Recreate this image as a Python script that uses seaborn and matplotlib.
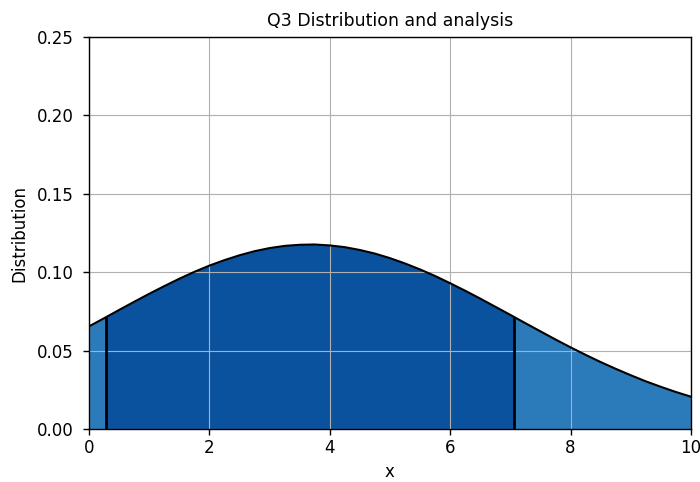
import matplotlib
matplotlib.use("Agg")
import matplotlib.pyplot as plt
import numpy as np
import pandas as pd
import seaborn as sns

# curve (x step 0.25)
x_vals = [0.0, 0.25, 0.5, 0.75, 1.0, 1.25, 1.5, 1.75, 2.0, 2.25, 2.5, 2.75,
          3.0, 3.25, 3.5, 3.75, 4.0, 4.25, 4.5, 4.75, 5.0, 5.25, 5.5, 5.75,
          6.0, 6.25, 6.5, 6.75, 7.0, 7.25, 7.5, 7.75, 8.0, 8.25, 8.5, 8.75,
          9.0, 9.25, 9.5, 9.75, 10.0]
dens = [0.0654, 0.0706, 0.0759, 0.0811, 0.0862, 0.0911, 0.0958, 0.1002,
        0.1042, 0.1077, 0.1108, 0.1134, 0.1154, 0.1168, 0.1175, 0.1177,
        0.1171, 0.1160, 0.1142, 0.1119, 0.1090, 0.1056, 0.1018, 0.0976,
        0.0930, 0.0882, 0.0832, 0.0780, 0.0728, 0.0675, 0.0623, 0.0571,
        0.0521, 0.0473, 0.0427, 0.0384, 0.0343, 0.0304, 0.0269, 0.0236,
        0.0206]
# interval bounds marked with the vertical lines
lo, hi = 0.285, 7.065

df = pd.DataFrame({"x": x_vals, "Distribution": dens})

sns.set_theme(style="ticks", rc={"text.color": "black", "axes.labelcolor": "black",
                                 "xtick.color": "black", "ytick.color": "black"})
plt.rcParams["font.family"] = ["DejaVu Sans"]

fig, ax = plt.subplots(figsize=(7, 4.82), dpi=100)
fig.subplots_adjust(left=0.127, right=0.987, bottom=0.110, top=0.923)

x = df["x"].to_numpy()
y = df["Distribution"].to_numpy()

# whole area under the curve, lighter blue
ax.fill_between(x, 0, y, color="#2b7bba", linewidth=0, zorder=1)

# the interval in darker blue
inner = (x > lo) & (x < hi)
xs = np.concatenate([[lo], x[inner], [hi]])
ys = np.concatenate([[np.interp(lo, x, y)], y[inner], [np.interp(hi, x, y)]])
ax.fill_between(xs, 0, ys, color="#0b529e", linewidth=0, zorder=1)

sns.lineplot(data=df, x="x", y="Distribution", color="black", linewidth=1.5,
             ax=ax, zorder=3)
ax.vlines([lo, hi], 0, [np.interp(lo, x, y), np.interp(hi, x, y)],
          colors="black", linewidth=2, zorder=3)

ax.set_xlim(0, 10)
ax.set_ylim(0, 0.25)
ax.set_xticks([0, 2, 4, 6, 8, 10])
ax.set_yticks([0.0, 0.05, 0.10, 0.15, 0.20, 0.25])
ax.set_yticklabels(["0.00", "0.05", "0.10", "0.15", "0.20", "0.25"])
ax.grid(True, color="#b0b0b0", linewidth=0.8)
ax.set_axisbelow(False)
for s in ax.spines.values():
    s.set_color("black")
    s.set_linewidth(1.0)
    s.set_zorder(5)
ax.tick_params(axis="both", labelsize=12, length=4, width=1, color="black")
ax.tick_params(axis="y", pad=7)
ax.set_xlabel("x", fontsize=12)
ax.set_ylabel("Distribution", fontsize=12, labelpad=6)
ax.set_title("Q3 Distribution and analysis", fontsize=12.5, pad=8)

plt.savefig("out.png")
plt.close()
